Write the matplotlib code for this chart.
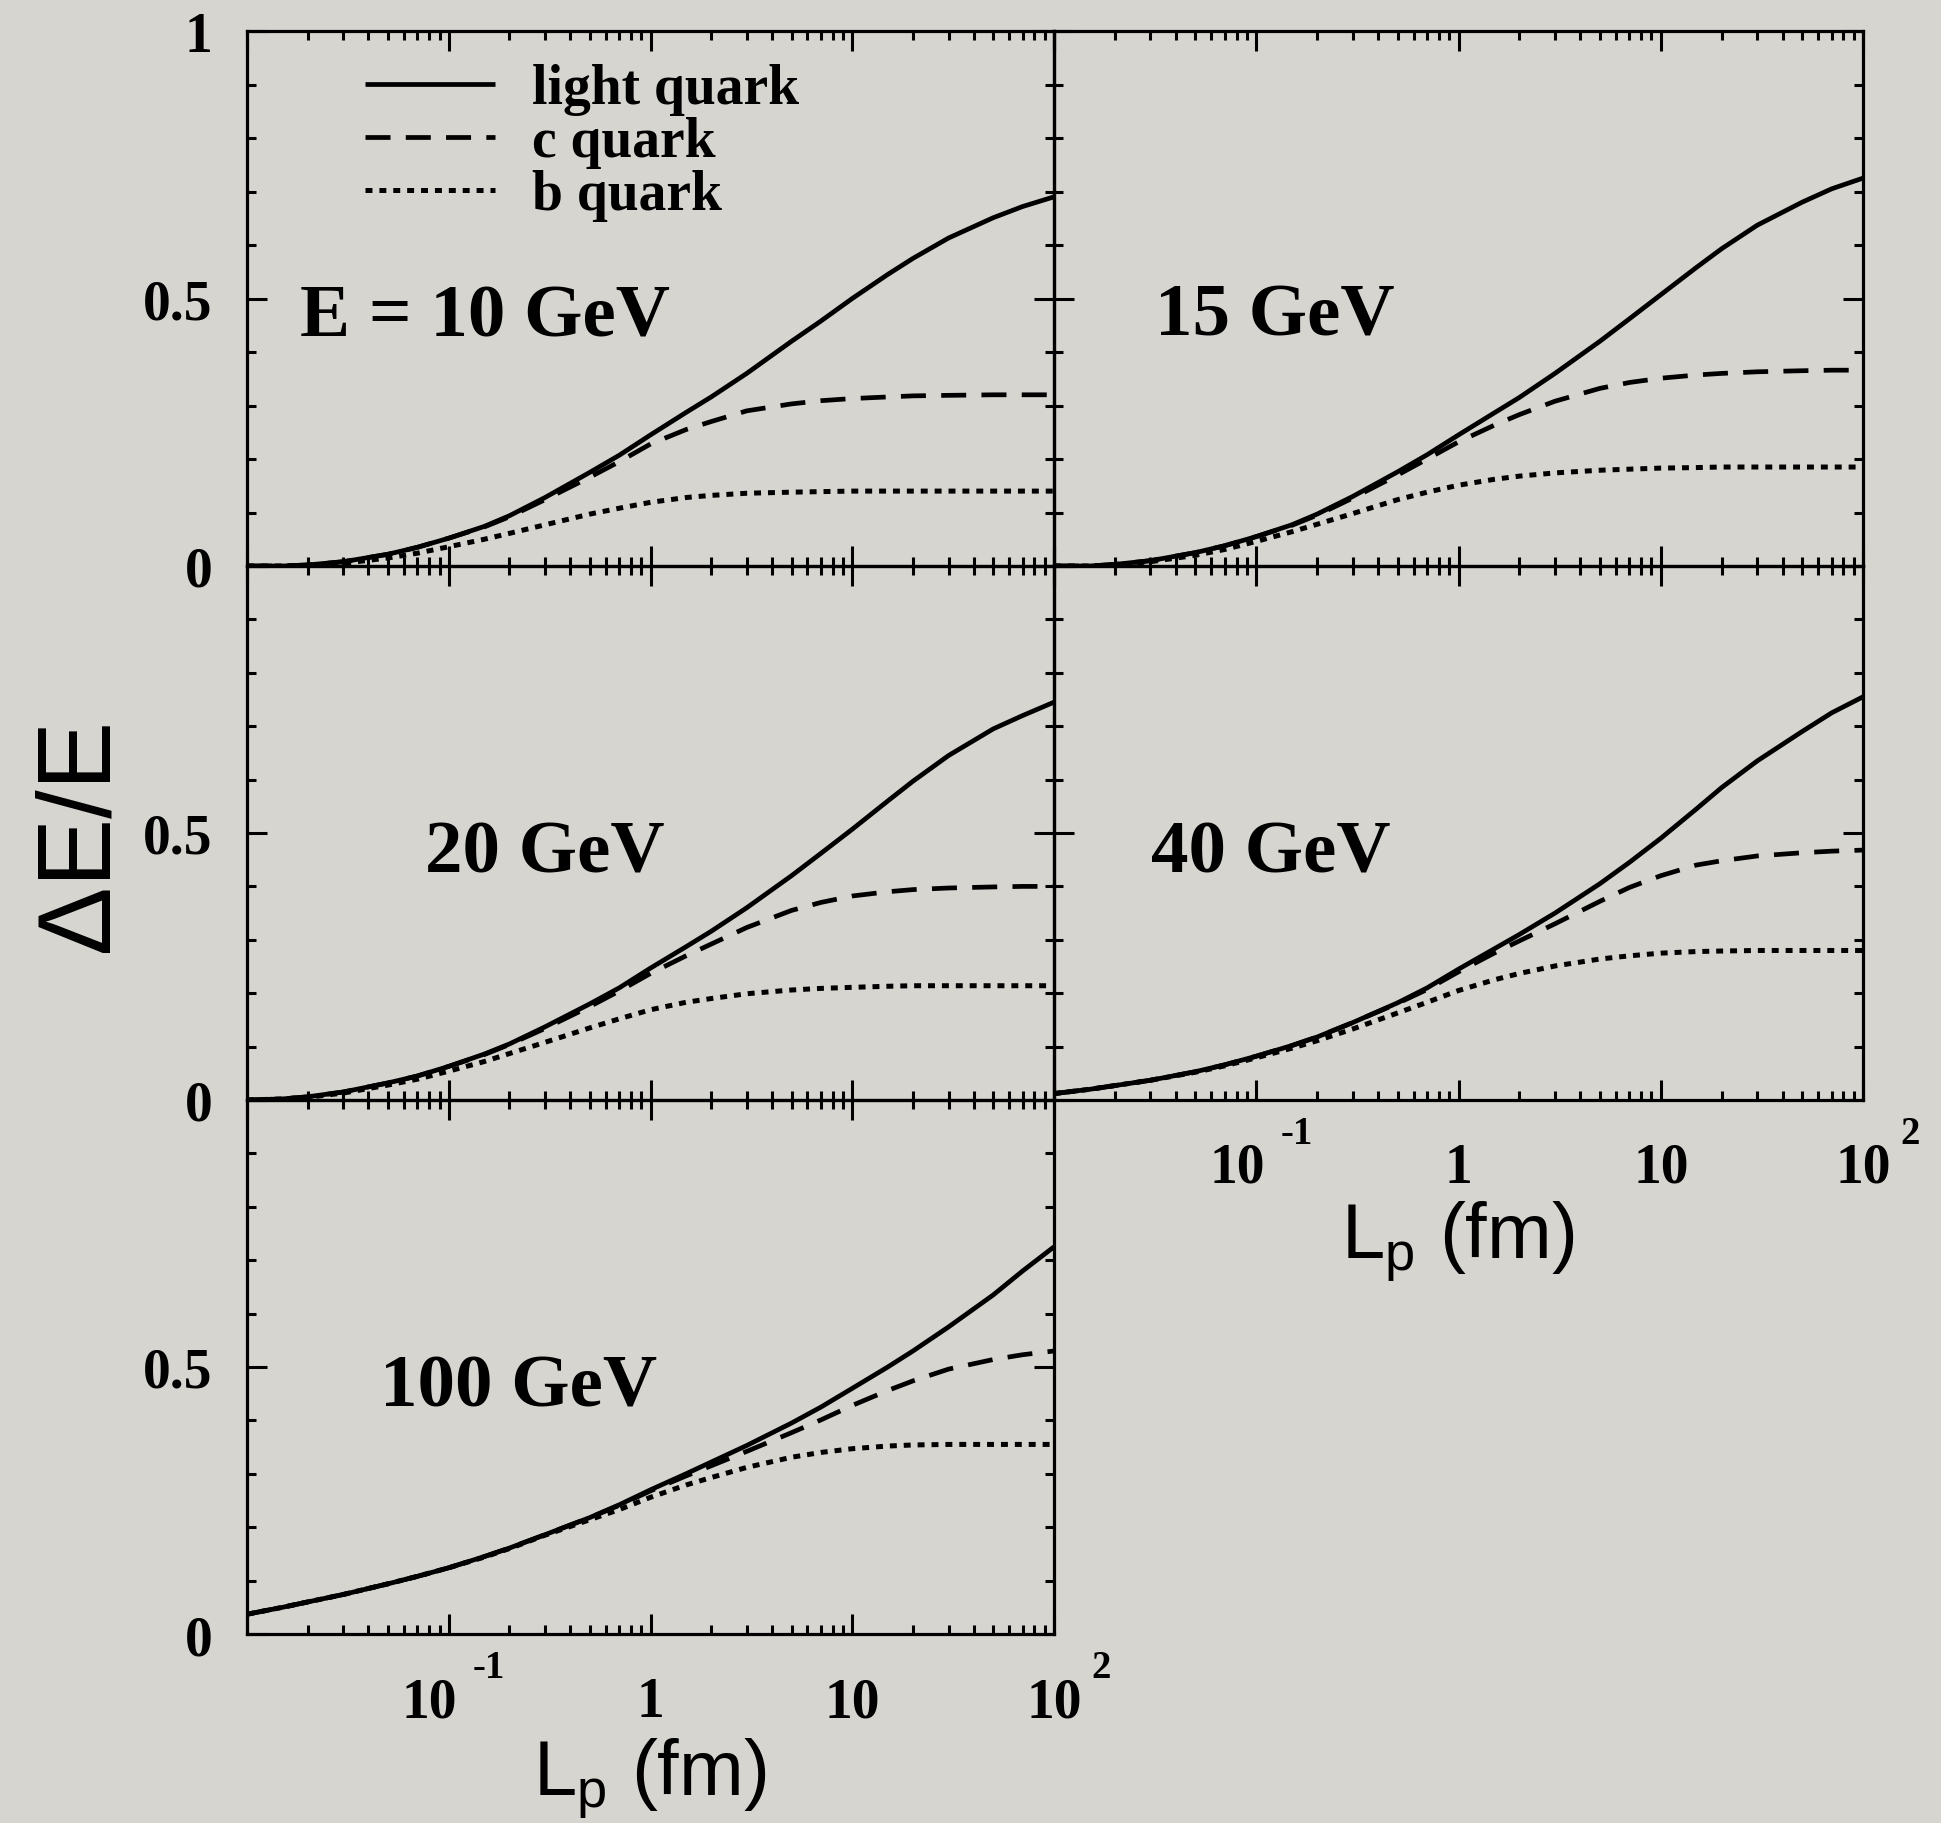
import numpy as np
import matplotlib
matplotlib.use('Agg')
import matplotlib.pyplot as plt
from matplotlib.ticker import FixedLocator, LogLocator, MultipleLocator, NullFormatter, FixedFormatter

plt.rcParams['font.family'] = ['Liberation Serif', 'DejaVu Serif']
plt.rcParams['font.weight'] = 'bold'
plt.rcParams['mathtext.fontset'] = 'custom'
plt.rcParams['mathtext.sf'] = 'Liberation Sans:weight=normal'
plt.rcParams['mathtext.rm'] = 'Liberation Sans:weight=normal'
plt.rcParams['lines.scale_dashes'] = False

# ---------------- data ----------------
L = [0.01, 0.015, 0.02, 0.03, 0.05, 0.07, 0.1, 0.15, 0.2, 0.3, 0.5, 0.7, 1, 1.5, 2, 3, 5, 7,
     10, 15, 20, 30, 50, 70, 100]

e10_light = [0, 0, 0.002, 0.008, 0.022, 0.035, 0.052, 0.074, 0.094, 0.128, 0.175, 0.207, 0.245, 0.287,
             0.316, 0.36, 0.42, 0.458, 0.5, 0.545, 0.575, 0.613, 0.651, 0.672, 0.69]
e10_c = [0, 0, 0.002, 0.008, 0.022, 0.035, 0.052, 0.073, 0.092, 0.124, 0.166, 0.195, 0.228, 0.255,
         0.27, 0.29, 0.303, 0.309, 0.313, 0.316, 0.318, 0.319, 0.32, 0.32, 0.32]
e10_b = [0, 0, 0.001, 0.005, 0.015, 0.024, 0.036, 0.05, 0.061, 0.077, 0.097, 0.108, 0.119, 0.128,
         0.132, 0.136, 0.138, 0.139, 0.14, 0.14, 0.14, 0.14, 0.14, 0.14, 0.14]

e15_light = [0, 0, 0.003, 0.01, 0.025, 0.038, 0.055, 0.077, 0.097, 0.13, 0.176, 0.208, 0.245, 0.286,
             0.315, 0.36, 0.42, 0.462, 0.507, 0.558, 0.593, 0.637, 0.68, 0.705, 0.725]
e15_c = [0, 0, 0.003, 0.01, 0.025, 0.038, 0.055, 0.076, 0.095, 0.127, 0.17, 0.2, 0.232, 0.263,
         0.283, 0.308, 0.332, 0.343, 0.351, 0.357, 0.36, 0.363, 0.365, 0.366, 0.366]
e15_b = [0, 0, 0.002, 0.008, 0.02, 0.031, 0.046, 0.064, 0.078, 0.098, 0.124, 0.138, 0.151, 0.162,
         0.168, 0.174, 0.179, 0.181, 0.183, 0.184, 0.185, 0.185, 0.185, 0.185, 0.185]

e20_light = [0, 0.002, 0.006, 0.015, 0.032, 0.045, 0.063, 0.086, 0.105, 0.137, 0.18, 0.21, 0.247, 0.287,
             0.316, 0.36, 0.42, 0.462, 0.507, 0.56, 0.597, 0.645, 0.695, 0.72, 0.745]
e20_c = [0, 0.002, 0.006, 0.015, 0.032, 0.045, 0.063, 0.085, 0.104, 0.134, 0.175, 0.204, 0.237, 0.27,
         0.292, 0.323, 0.355, 0.37, 0.382, 0.39, 0.394, 0.397, 0.399, 0.4, 0.4]
e20_b = [0, 0.002, 0.005, 0.013, 0.028, 0.039, 0.054, 0.072, 0.087, 0.108, 0.135, 0.152, 0.169, 0.183,
         0.19, 0.199, 0.206, 0.209, 0.211, 0.213, 0.214, 0.214, 0.214, 0.214, 0.214]

e40_light = [0.012, 0.02, 0.027, 0.037, 0.053, 0.066, 0.082, 0.102, 0.118, 0.145, 0.182, 0.21, 0.245,
             0.283, 0.31, 0.35, 0.405, 0.445, 0.49, 0.545, 0.585, 0.635, 0.69, 0.725, 0.755]
e40_c = [0.012, 0.02, 0.027, 0.037, 0.053, 0.066, 0.082, 0.102, 0.118, 0.145, 0.181, 0.207, 0.24, 0.275,
         0.298, 0.33, 0.372, 0.398, 0.42, 0.44, 0.448, 0.457, 0.463, 0.466, 0.468]
e40_b = [0.012, 0.02, 0.027, 0.037, 0.052, 0.064, 0.079, 0.097, 0.111, 0.133, 0.163, 0.183, 0.205, 0.225,
         0.237, 0.251, 0.264, 0.27, 0.275, 0.278, 0.279, 0.28, 0.28, 0.28, 0.28]

e100_light = [0.037, 0.05, 0.06, 0.074, 0.094, 0.108, 0.124, 0.145, 0.161, 0.186, 0.218, 0.242, 0.27,
              0.3, 0.322, 0.353, 0.395, 0.425, 0.46, 0.5, 0.53, 0.575, 0.635, 0.68, 0.725]
e100_c = [0.037, 0.05, 0.06, 0.074, 0.094, 0.108, 0.124, 0.145, 0.161, 0.186, 0.218, 0.241, 0.268, 0.296,
          0.315, 0.342, 0.377, 0.401, 0.428, 0.456, 0.474, 0.496, 0.514, 0.523, 0.53]
e100_b = [0.037, 0.05, 0.06, 0.074, 0.094, 0.108, 0.124, 0.144, 0.16, 0.185, 0.214, 0.233, 0.256, 0.279,
          0.293, 0.312, 0.331, 0.34, 0.347, 0.352, 0.354, 0.355, 0.355, 0.355, 0.355]

panel_titles = ['E = 10 GeV', '15 GeV', '20 GeV', '40 GeV', '100 GeV']
series_labels = ['light quark', 'c quark', 'b quark']

ytick_vals = [0, 0.5, 1]
ytick_text_top = ['0', '0.5', '1']
ytick_text_other = ['0', '0.5', '']
xtick_vals = [0.1, 1, 10, 100]
xtick_main = ['10', '1', '10', '10']
xtick_sup = ['-1', '', '', '2']

# ---------------- layout ----------------
W, H = 1941, 1824
BG = '#d7d5cf'
fig = plt.figure(figsize=(W / 100, H / 100), dpi=100, facecolor=BG)

cols = [(247, 1054), (1054, 1863)]
rows = [(32, 567), (567, 1101), (1101, 1635)]
PX = 0.72  # points per pixel at dpi 100


def make_axes(col, row):
    l, r = cols[col]
    t, b = rows[row]
    ax = fig.add_axes([l / W, 1 - b / H, (r - l) / W, (b - t) / H])
    ax.set_facecolor('none')
    ax.set_xscale('log')
    ax.set_xlim(0.01, 100)
    ax.set_ylim(0, 1)
    for s in ax.spines.values():
        s.set_linewidth(2.3)
    ax.xaxis.set_major_locator(FixedLocator([0.01, 0.1, 1, 10, 100]))
    ax.xaxis.set_minor_locator(LogLocator(base=10, subs=np.arange(2, 10), numticks=30))
    ax.xaxis.set_major_formatter(NullFormatter())
    ax.xaxis.set_minor_formatter(NullFormatter())
    ax.yaxis.set_major_locator(FixedLocator(ytick_vals))
    ax.yaxis.set_minor_locator(MultipleLocator(0.1))
    ax.yaxis.set_minor_formatter(NullFormatter())
    ax.tick_params(which='both', direction='in', top=True, right=True, width=2.2, color='k')
    ax.tick_params(which='major', length=14.4)
    ax.tick_params(which='minor', length=6.8)
    ax.tick_params(axis='y', labelsize=40, pad=25)
    if col == 0:
        ax.yaxis.set_major_formatter(FixedFormatter(ytick_text_top if row == 0 else ytick_text_other))
    else:
        ax.yaxis.set_major_formatter(NullFormatter())
    return ax


def draw(ax, light, cq, bq):
    h1, = ax.plot(L, light, color='k', lw=3.4, solid_capstyle='butt')
    h2, = ax.plot(L, cq, color='k', lw=3.4, dashes=(18, 11), dash_capstyle='butt')
    h3, = ax.plot(L, bq, color='k', lw=3.6, dashes=(5, 5), dash_capstyle='butt')
    return [h1, h2, h3]


def xlabels(ax):
    offs_main = [-19, 0, 0, 0]
    offs_sup = [24, 0, 0, 37]
    for x, m, s, dm, ds in zip(xtick_vals, xtick_main, xtick_sup, offs_main, offs_sup):
        ax.annotate(m, xy=(x, 0), xycoords=('data', 'axes fraction'),
                    xytext=(dm * PX, -82 * PX), textcoords='offset points',
                    ha='center', va='baseline', fontsize=40, annotation_clip=False)
        if s:
            ax.annotate(s, xy=(x, 0), xycoords=('data', 'axes fraction'),
                        xytext=(ds * PX, -43 * PX), textcoords='offset points',
                        ha='left', va='baseline', fontsize=28, annotation_clip=False)


ax10 = make_axes(0, 0)
handles = draw(ax10, e10_light, e10_c, e10_b)
ax15 = make_axes(1, 0)
draw(ax15, e15_light, e15_c, e15_b)
ax20 = make_axes(0, 1)
draw(ax20, e20_light, e20_c, e20_b)
ax40 = make_axes(1, 1)
draw(ax40, e40_light, e40_c, e40_b)
ax100 = make_axes(0, 2)
draw(ax100, e100_light, e100_c, e100_b)

xlabels(ax40)
xlabels(ax100)

ax10.legend(handles, series_labels, loc='upper left', bbox_to_anchor=(0.146, 0.94),
            frameon=False, prop=dict(family='Liberation Serif', weight='bold', size=40),
            handlelength=2.34, handletextpad=0.67, labelspacing=0.02,
            borderpad=0, borderaxespad=0)

title_pos = [(ax10, 0.0657, 0.43), (ax15, 0.125, 0.432), (ax20, 0.2206, 0.427),
             (ax40, 0.12, 0.427), (ax100, 0.165, 0.427)]
for (ax, tx, ty), title in zip(title_pos, panel_titles):
    ax.text(tx, ty, title, transform=ax.transAxes, ha='left', va='baseline', fontsize=54)

fig.text(81 / W, 1 - 835 / H, '\u0394E/E', rotation=90, ha='center', va='center',
         fontsize=74, family='Liberation Sans', weight='normal')
fig.text(650 / W, 1 - 1795 / H, r'L$_{\mathsf{p}}$ (fm)', ha='center', va='baseline',
         fontsize=56, family='Liberation Sans', weight='normal')
fig.text(1458 / W, 1 - 1258 / H, r'L$_{\mathsf{p}}$ (fm)', ha='center', va='baseline',
         fontsize=56, family='Liberation Sans', weight='normal')

fig.savefig('out.png', dpi=100, facecolor=BG)
